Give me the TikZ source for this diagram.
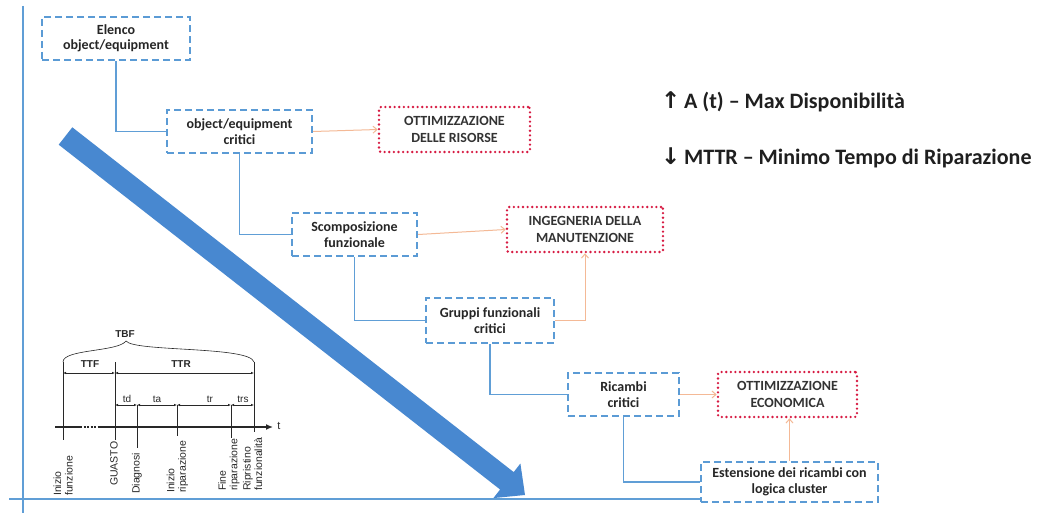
\documentclass[tikz,border=0pt]{standalone}
\usepackage{fontspec}
\setmainfont{Carlito}
\newfontfamily\arialf{Liberation Sans}
\newfontfamily\djv{DejaVu Sans}
\usetikzlibrary{arrows.meta,calc}
\definecolor{boxblue}{RGB}{91,155,213}
\definecolor{linkblue}{RGB}{96,158,214}
\definecolor{arrowblue}{RGB}{72,136,208}
\definecolor{dotred}{RGB}{215,25,65}
\definecolor{orangeln}{RGB}{244,185,150}
\definecolor{tlgray}{RGB}{40,40,40}
\begin{document}
\begin{tikzpicture}[x=1pt,y=-1pt,
  bluebox/.style={draw=boxblue, line width=2.4pt, dash pattern=on 7pt off 4pt, inner sep=1pt, align=center,
    font=\fontsize{14}{15.5}\selectfont\bfseries, text=black!85},
  redbox/.style={draw=dotred, line width=2.6pt, line cap=round, dash pattern=on 0pt off 4.6pt, rounded corners=2pt,
    inner sep=1pt, align=center, font=\fontsize{14}{17}\selectfont\bfseries, text=black!80},
  link/.style={draw=linkblue, line width=1.4pt},
  goal/.style={draw=orangeln, line width=1pt, -{Straight Barb[length=4pt,width=7pt]}},
  tltext/.style={inner sep=0pt, text=tlgray, font=\arialf\fontsize{10}{11}\selectfont},
  tlrot/.style={tltext, font=\arialf\fontsize{10.5}{11.5}\selectfont, rotate=90, anchor=west, align=left},
  tlline/.style={draw=tlgray, line width=0.6pt},
  dim/.style={draw=tlgray, line width=0.6pt, {Latex[length=3pt,width=2.5pt]}-{Latex[length=3pt,width=2.5pt]}},
  headtext/.style={inner sep=0pt, anchor=west, font=\fontsize{22}{24}\selectfont\bfseries, text=black!88}
]
\useasboundingbox (0,0) rectangle (1037,513);
\fill[white] (0,0) rectangle (1037,513);

% axes
\coordinate (vtop) at (23,6);
\coordinate (vbot) at (23,513);
\coordinate (hleft) at (9,499);
\coordinate (hright) at (701,499);
\draw[draw=linkblue, line width=1.3pt] (vtop) -- (vbot);
\draw[draw=linkblue, line width=2pt] (hleft) -- (hright);

% big blue arrow
\fill[arrowblue] (72.3,127.3) -- (513.7,472.1) -- (520.4,463.5) -- (525,495) -- (493.4,498.1) -- (500.1,489.5) -- (58.7,144.7) -- cycle;

% blue boxes
\node[bluebox, minimum width=148pt, minimum height=43pt] (b1) at (116,38.5) {Elenco\\object/equipment};
\node[bluebox, minimum width=145pt, minimum height=43pt] (b2) at (239.5,131.5) {object/equipment\\critici};
\node[bluebox, minimum width=125pt, minimum height=43pt] (b3) at (354.5,234.5) {Scomposizione\\funzionale};
\node[bluebox, minimum width=128pt, minimum height=45pt] (b4) at (490,320.5) {Gruppi funzionali\\critici};
\node[bluebox, minimum width=111pt, minimum height=43pt] (b5) at (623.5,394.5) {Ricambi\\critici};
\node[bluebox, minimum width=177pt, minimum height=40pt] (b6) at (789.5,482) {Estensione dei ricambi con\\logica cluster};

% red boxes
\node[redbox, minimum width=151pt, minimum height=45pt] (rA) at (454.5,129.5) {OTTIMIZZAZIONE\\DELLE RISORSE};
\node[redbox, minimum width=156pt, minimum height=45pt] (rB) at (585,229.5) {INGEGNERIA DELLA\\MANUTENZIONE};
\node[redbox, minimum width=139pt, minimum height=45pt] (rC) at (787.5,394.5) {OTTIMIZZAZIONE\\ECONOMICA};

% blue connectors
\draw[link] (b1.south) |- (b2.west);
\draw[link] (b2.south) |- (b3.west);
\draw[link] (b3.south) |- (b4.west);
\draw[link] (b4.south) |- (b5.west);
\draw[link] (b5.south) |- (b6.west);

% orange arrows
\draw[goal] (b2.east) -- (rA.west);
\draw[goal] (b3.east) -- (rB.west);
\draw[goal] (b4.east) -| (rB.south);
\draw[goal] (b5.east) -- (rC.west);
\draw[goal] (b6.north) -- (b6.north |- rC.south);

% headline text
\node[headtext] (h1) at (661,102) {{\djv\bfseries\fontsize{23}{24}\selectfont ↑}\,A (t) – Max Disponibilità};
\node[headtext] (h2) at (661,158) {{\djv\bfseries\fontsize{23}{24}\selectfont ↓}\,MTTR – Minimo Tempo di Riparazione};

% ---- timeline inset ----
% brace
\draw[tlline] (63,362) .. controls (63,349) and (118,352) .. (126,341) .. controls (134,352) and (250,346) .. (254,362);
\node[tltext, font=\arialf\bfseries\fontsize{10}{11}\selectfont] (tbf) at (125,334) {TBF};
\node[tltext, font=\arialf\bfseries\fontsize{10}{11}\selectfont] (ttf) at (90,364) {TTF};
\node[tltext, font=\arialf\bfseries\fontsize{10}{11}\selectfont] (ttr) at (181,364) {TTR};
% vertical ticks
\draw[tlline] (63,362) -- (63,440);
\draw[tlline] (115,362) -- (115,440);
\draw[tlline] (137,405) -- (137,448);
\draw[tlline] (177,405) -- (177,436);
\draw[tlline] (231,405) -- (231,438);
\draw[tlline] (254,362) -- (254,432);
% dimension lines
\draw[dim] (63,373) -- (115,373);
\draw[dim] (115,373) -- (254,373);
\draw[dim] (115,405) -- (137,405);
\draw[dim] (137,405) -- (177,405);
\draw[dim] (177,405) -- (231,405);
\draw[dim] (231,405) -- (254,405);
\node[tltext] (td) at (127,399) {td};
\node[tltext] (ta) at (157,399) {ta};
\node[tltext] (tr) at (210,399) {tr};
\node[tltext] (trs) at (243,399) {trs};
% time axis
\draw[draw=tlgray, line width=2.4pt] (55,427) -- (80,427);
\draw[draw=tlgray, line width=1.8pt, dash pattern=on 2pt off 1.5pt] (80,427) -- (100,427);
\draw[draw=tlgray, line width=1.3pt, -{Latex[length=7pt,width=6pt]}] (100,427) -- (273,427);
\node[tltext, font=\arialf\fontsize{11}{11}\selectfont] (tt) at (279,426) {t};
% rotated labels
\node[tlrot] (l1) at (63,496) {Inizio\\funzione};
\node[tlrot] (l2) at (114,486) {GUASTO};
\node[tlrot] (l3) at (137,494) {Diagnosi};
\node[tlrot] (l4) at (177.5,493) {Inizio\\riparazione};
\node[tlrot] (l5) at (229,491) {Fine\\riparazione};
\node[tlrot] (l6) at (252.5,491) {Ripristino\\funzionalità};
\end{tikzpicture}
\end{document}
